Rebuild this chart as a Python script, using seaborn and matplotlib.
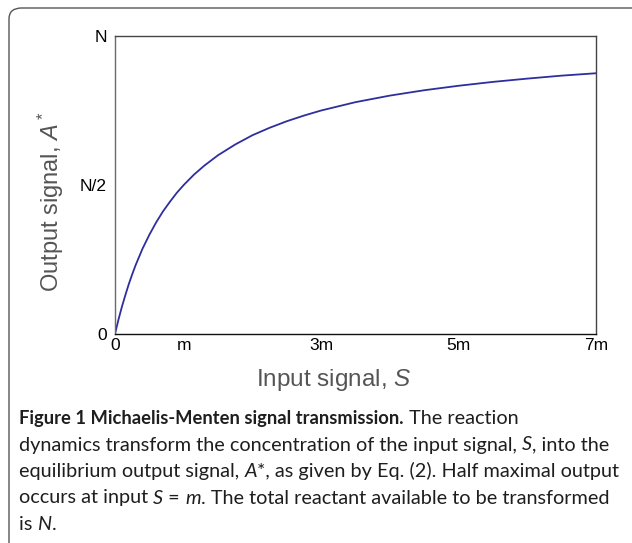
import matplotlib
matplotlib.use("Agg")
import matplotlib.pyplot as plt
from matplotlib.patches import FancyBboxPatch
import pandas as pd
import seaborn as sns

# curve (S in units of m, A* in units of N)
input_signal = [0, 0.05, 0.1, 0.15, 0.2, 0.25, 0.3, 0.4, 0.5, 0.6, 0.7, 0.8,
                0.9, 1.0, 1.15, 1.3, 1.5, 1.75, 2.0, 2.25, 2.5, 2.75, 3.0,
                3.5, 4.0, 4.5, 5.0, 5.5, 6.0, 6.5, 7.0]
output_signal = [0, 0.048, 0.091, 0.13, 0.167, 0.2, 0.231, 0.286, 0.333,
                 0.375, 0.412, 0.444, 0.474, 0.5, 0.535, 0.565, 0.6, 0.636,
                 0.667, 0.692, 0.714, 0.733, 0.75, 0.778, 0.8, 0.818, 0.833,
                 0.846, 0.857, 0.867, 0.875]

xtick_pos = [0, 1, 3, 5, 7]
xtick_labels = ["0", "m", "3m", "5m", "7m"]
ytick_pos = [0, 0.5, 1]
ytick_labels = ["0", "N/2", "N"]

caption_lines = [
    [("Figure 1 Michaelis-Menten signal transmission.", "bold", "normal"),
     (" The reaction", "normal", "normal")],
    [("dynamics transform the concentration of the input signal, ", "normal", "normal"),
     ("S", "normal", "italic"), (", into the", "normal", "normal")],
    [("equilibrium output signal, ", "normal", "normal"), ("A", "normal", "italic"),
     ("*, as given by Eq. (2). Half maximal output", "normal", "normal")],
    [("occurs at input ", "normal", "normal"), ("S", "normal", "italic"),
     (" = ", "normal", "normal"), ("m", "normal", "italic"),
     (". The total reactant available to be transformed", "normal", "normal")],
    [("is ", "normal", "normal"), ("N", "normal", "italic"), (".", "normal", "normal")],
]

sns.set_style("white")
plt.rcParams['font.family'] = ['Liberation Sans', 'DejaVu Sans']
plt.rcParams['mathtext.fontset'] = 'custom'
plt.rcParams['mathtext.rm'] = 'Liberation Sans'
plt.rcParams['mathtext.it'] = 'Liberation Sans:italic'

df = pd.DataFrame({"S": input_signal, "A": output_signal})

W, H = 632, 543
fig = plt.figure(figsize=(W / 100, H / 100), dpi=100)
ax = fig.add_axes([115 / W, 1 - 334 / H, (596 - 115) / W, (334 - 36) / H])

sns.lineplot(data=df, x="S", y="A", ax=ax, color="#2e2e9e", linewidth=1.3)

ax.set_xlim(0, 7)
ax.set_ylim(0, 1)
ax.set_xticks(xtick_pos)
ax.set_xticklabels(xtick_labels)
ax.set_yticks(ytick_pos)
ax.set_yticklabels(ytick_labels)
ax.tick_params(direction="in", length=4, width=0.8, labelsize=12.5,
               colors="black", pad=3)
ax.tick_params(axis="y", pad=6)

for side, col in [("left", "#6a6a6a"), ("bottom", "#111111"),
                  ("top", "#444444"), ("right", "#444444")]:
    ax.spines[side].set_visible(True)
    ax.spines[side].set_color(col)
    ax.spines[side].set_linewidth(1.0)

ax.set_xlabel("Input signal, $S$", fontsize=17.5, color="#555555")
ax.set_ylabel("Output signal, $A^*$", fontsize=17, color="#555555")
ax.xaxis.set_label_coords(0.455, -0.11)
ax.yaxis.set_label_coords(-0.102, 0.443)

# outer frame of the figure panel
frame = FancyBboxPatch((9 / W, -0.1), 1.2, 1 - 8 / H + 0.1,
                       boxstyle="round,pad=0,rounding_size=0.02",
                       transform=fig.transFigure, facecolor="none",
                       edgecolor="#555555", linewidth=1.0, clip_on=False)
fig.patches.append(frame)

# caption, drawn piece by piece so bold / italic can be mixed
cap_font = ['Lato', 'DejaVu Sans']
for i, line in enumerate(caption_lines):
    prev = None
    for txt, weight, style in line:
        size = 13.2 if weight == "bold" else 14.3
        kw = dict(fontsize=size, family=cap_font, fontweight=weight,
                  fontstyle=style, color="#1e1e1e", va="bottom", ha="left")
        if prev is None:
            prev = fig.text(19 / W, 1 - (427 + i * 26.5) / H, txt, **kw)
        else:
            prev = fig.add_artist(plt.Annotation(txt, xy=(1, 0), xycoords=prev,
                                                 annotation_clip=False, **kw))

fig.savefig("out.png", dpi=100)
